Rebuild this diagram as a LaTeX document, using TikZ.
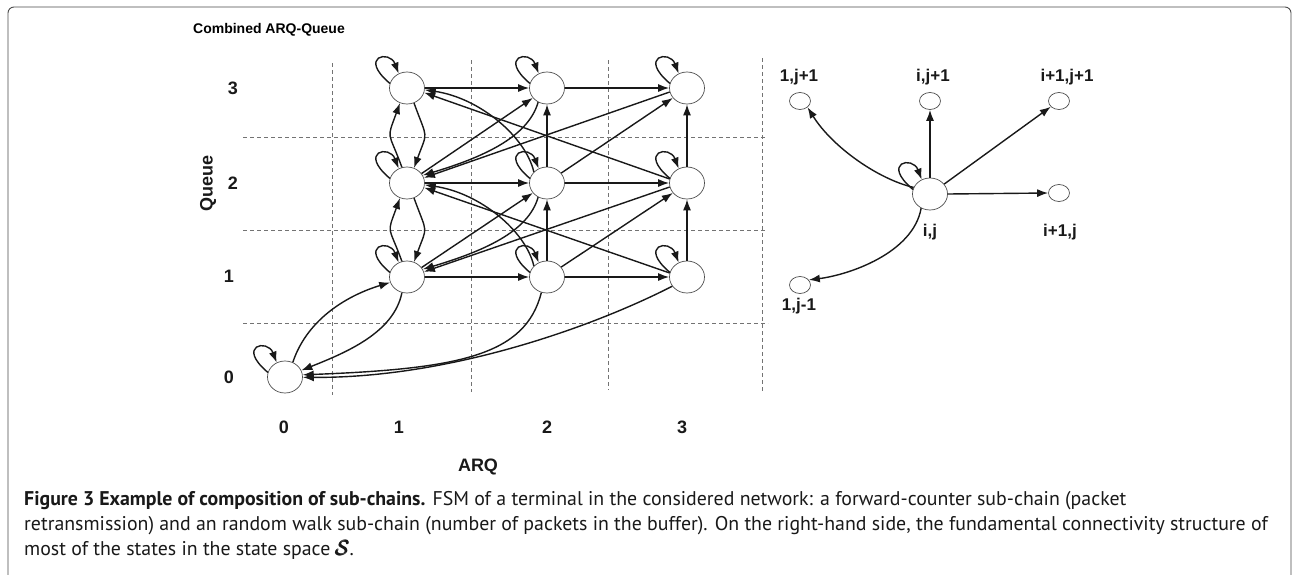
\documentclass[tikz,border=0pt]{standalone}
\usepackage{fontspec}
\usepackage{amsmath,bm}
\setmainfont{PT Sans}
\newfontfamily\diagfont{Liberation Sans}
\usetikzlibrary{shapes.geometric,arrows.meta}
\newcommand\selfloop[1]{\draw[arr] (#1.165) .. controls +(-32,-27) and +(-9,-24) .. (#1.120);}
\begin{document}
\begin{tikzpicture}[x=1pt,y=-1pt,
  st/.style={ellipse, draw=black!70, line width=0.7pt, minimum width=35pt, minimum height=32pt, inner sep=0pt, fill=white},
  sm/.style={ellipse, draw=black!70, line width=0.7pt, minimum width=21pt, minimum height=17pt, inner sep=0pt, fill=white},
  arr/.style={draw=black!90, line width=1.4pt, -{Latex[length=11pt,width=8pt]}},
  gridline/.style={draw=black!55, line width=0.65pt, dash pattern=on 4pt off 3pt},
  lbl/.style={font=\diagfont\bfseries\fontsize{18}{20}\selectfont, inner sep=0pt, text=black!90},
  rl/.style={font=\diagfont\bfseries\fontsize{17}{19}\selectfont, inner sep=0pt, text=black!90},
  captext/.style={font=\fontsize{19.85}{23}\selectfont, inner sep=0pt, anchor=base west, text=black!90}]
\useasboundingbox (0,0) rectangle (1294,574);
\fill[white] (0,0) rectangle (1294,574);
% frame
\draw[black!70, line width=0.9pt, rounded corners=6pt] (8,590) -- (8,7) -- (1291,7) -- (1291,590);
% grid
\draw[gridline] (332,63) -- (332,395);
\draw[gridline] (471,60) -- (471,392);
\draw[gridline] (608,60) -- (608,390);
\draw[gridline] (762,58) -- (762,392);
\draw[gridline] (243,137) -- (765,137);
\draw[gridline] (243,230) -- (765,230);
\draw[gridline] (243,323) -- (768,323);
% labels
\node[font=\diagfont\bfseries\fontsize{14}{16}\selectfont, inner sep=0pt] (title) at (269,30) {Combined ARQ-Queue};
\node[lbl, rotate=90] (qlab) at (208,183) {Queue};
\node[lbl] (q3) at (233,88) {3};
\node[lbl] (q2) at (233,183) {2};
\node[lbl] (q1) at (229,276) {1};
\node[lbl] (q0) at (229,377) {0};
\node[lbl] (a0) at (284,427) {0};
\node[lbl] (a1) at (399,427) {1};
\node[lbl] (a2) at (547,427) {2};
\node[lbl] (a3) at (682,427) {3};
\node[lbl] (arq) at (478,467) {ARQ};
% states
\node[st] (n00) at (285,377) {};
\node[st] (n11) at (407,277) {};
\node[st] (n12) at (407,183) {};
\node[st] (n13) at (407,88) {};
\node[st] (n21) at (547,277) {};
\node[st] (n22) at (547,183) {};
\node[st] (n23) at (547,88) {};
\node[st] (n31) at (687,277) {};
\node[st] (n32) at (687,183) {};
\node[st] (n33) at (687,88) {};
% self loops
\foreach \n in {n00,n11,n12,n13,n21,n22,n23,n31,n32,n33}{\selfloop{\n}}
% horizontal
\draw[arr] (n13) -- (n23);
\draw[arr] (n23) -- (n33);
\draw[arr] (n12) -- (n22);
\draw[arr] (n22) -- (n32);
\draw[arr] (n11) -- (n21);
\draw[arr] (n21) -- (n31);
% vertical
\draw[arr] (n22) -- (n23);
\draw[arr] (n21) -- (n22);
\draw[arr] (n32) -- (n33);
\draw[arr] (n31) -- (n32);
% column 1 pairs
\draw[arr] (n12.108) to[out=110,in=250,looseness=1.6] (n13.245);
\draw[arr] (n13.295) to[out=290,in=70,looseness=1.6] (n12.65);
\draw[arr] (n11.108) to[out=110,in=250,looseness=1.6] (n12.245);
\draw[arr] (n12.295) to[out=290,in=70,looseness=1.6] (n11.65);
% to / from state 0
\draw[arr] (n00.62) .. controls +(15,-45) and +(-40,12) .. (n11.198);
\draw[arr] (n11.252) .. controls +(-8,40) and +(45,-18) .. (n00.22);
\draw[arr] (n21.250) .. controls +(-16,63) and +(157,-6) .. (n00.7);
\draw[arr] (n31.212) .. controls +(-80,41) and +(146,1) .. (n00.-1);
% diagonals up
\draw[arr] (n12.33) -- (n23.215);
\draw[arr] (n11.33) -- (n22.215);
\draw[arr] (n22.35) -- (n33.215);
\draw[arr] (n21.35) -- (n32.215);
% long diagonals back to column 1
\draw[arr] (n33.193) -- (n12.17);
\draw[arr] (n32.193) -- (n11.17);
\draw[arr] (n32.167) -- (n13.-15);
\draw[arr] (n31.167) -- (n12.-15);
% curves back to column 1
\draw[arr] (n23.238) .. controls +(-10,35) and +(60,-18) .. (n12.26);
\draw[arr] (n22.238) .. controls +(-10,35) and +(60,-18) .. (n11.26);
\draw[arr] (n22.140) .. controls +(-8,-35) and +(55,8) .. (n13.-6);
\draw[arr] (n21.140) .. controls +(-8,-35) and +(55,8) .. (n12.-6);
% right-hand structure
\node[st] (ij) at (930,194) {};
\node[sm] (s1p) at (800,101) {};
\node[sm] (sip) at (930,101) {};
\node[sm] (sipp) at (1059,101) {};
\node[sm] (sij) at (1059,193) {};
\node[sm] (s1m) at (800,285) {};
\node[rl] (l1p) at (799,77) {1,j+1};
\node[rl] (lip) at (933,77) {i,j+1};
\node[rl] (lipp) at (1067,77) {i+1,j+1};
\node[rl] (lij) at (930,232) {i,j};
\node[rl] (li1j) at (1060,232) {i+1,j};
\node[rl] (l1m) at (799,306) {1,j-1};
\selfloop{ij}
\draw[arr] (ij.158) .. controls +(-35,-8) and +(25,40) .. (s1p.-40);
\draw[arr] (ij.north) -- (sip.south);
\draw[arr] (ij.35) -- (sipp.215);
\draw[arr] (ij.east) -- (sij.west);
\draw[arr] (ij.238) .. controls +(-8,45) and +(40,-5) .. (s1m.30);
% caption
\node[captext] (c1) at (24,505) {\textbf{Figure 3 Example of composition of sub-chains.} FSM of a terminal in the considered network: a forward-counter sub-chain (packet};
\node[captext] (c2) at (24,530) {retransmission) and an random walk sub-chain (number of packets in the buffer). On the right-hand side, the fundamental connectivity structure of};
\node[captext] (c3) at (24,555) {most of the states in the state space $\pmb{\mathcal{S}}$.};
\end{tikzpicture}
\end{document}
